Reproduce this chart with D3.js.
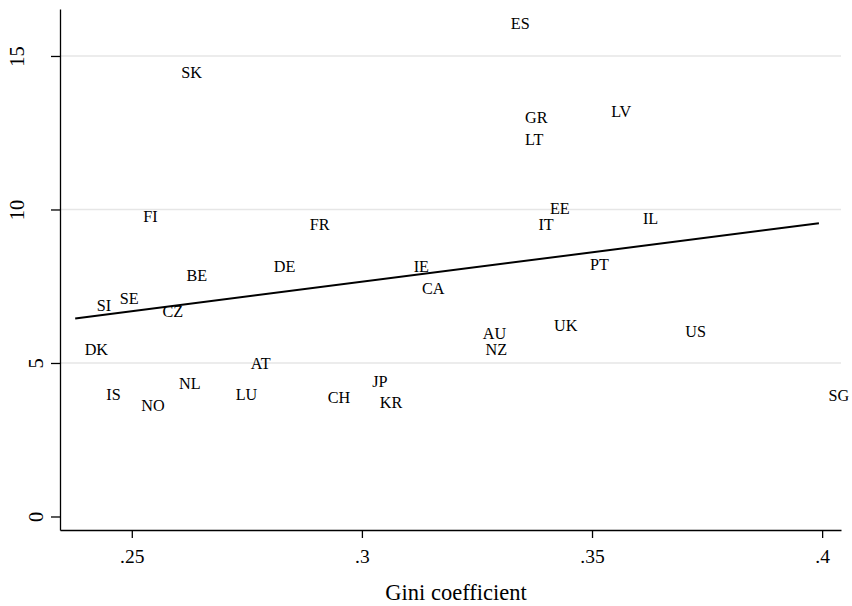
<!DOCTYPE html>
<meta charset="utf-8">
<style>
body { margin: 0; background: #fff; }
text { font-family: "Liberation Serif", "DejaVu Serif", serif; fill: #000; }
</style>
<svg width="852" height="606"></svg>
<script src="https://d3js.org/d3.v7.min.js"></script>
<script>
// country codes and their values (gini, y)
var countries = ["ES","SK","GR","LV","LT","FI","FR","EE","IT","IL","BE","DE","IE","PT","CA","SE","SI","CZ",
  "AU","UK","US","NZ","DK","AT","NL","JP","IS","LU","CH","KR","NO","SG"]
var gini = [0.3303,0.2587,0.3334,0.3521,0.3334,0.2504,0.2866,0.3388,0.3363,0.3590,0.2598,0.2788,0.3092,0.3475,0.3110,0.2453,0.2403,0.2546,
  0.3242,0.3397,0.3682,0.3248,0.2377,0.2738,0.2582,0.3002,0.2424,0.2705,0.2905,0.3018,0.2500,0.3993]
var values = [16.04,14.45,12.97,13.16,12.27,9.75,9.50,10.02,9.49,9.70,7.82,8.12,8.12,8.20,7.40,7.08,6.84,6.66,
  5.96,6.19,6.00,5.43,5.43,4.96,4.32,4.38,3.96,3.96,3.86,3.69,3.60,3.94]

// fitted line end points
var fitX = [0.2377, 0.3993]
var fitY = [6.45, 9.55]

var xTicks = [0.25, 0.3, 0.35, 0.4]
var xTickLabels = [".25", ".3", ".35", ".4"]
var yTicks = [0, 5, 10, 15]
var yGrid = [5, 10, 15]

var svg = d3.select('svg')

var x = d3.scaleLinear().domain([0.2344, 0.4041]).range([60, 841])
var y = d3.scaleLinear().domain([-0.44, 16.53]).range([530, 9])

// grid lines
svg.append('g').selectAll('line')
  .data(yGrid)
  .enter().append('line')
  .attr('x1', 60).attr('x2', 841)
  .attr('y1', function (d) { return y(d) })
  .attr('y2', function (d) { return y(d) })
  .attr('stroke', '#e6e6e6')
  .attr('stroke-width', 1.4)

// x axis
var xAxis = svg.append('g')
  .attr('transform', 'translate(0,530)')
  .call(d3.axisBottom(x).tickValues(xTicks).tickSize(8).tickSizeOuter(0)
    .tickFormat(function (d, i) { return xTickLabels[i] }))
xAxis.selectAll('path, line').attr('stroke', '#000').attr('stroke-width', 1.3)
xAxis.selectAll('text')
  .attr('y', 33).attr('dy', 0)
  .attr('font-size', 19.5)
  .attr('font-family', '"Liberation Serif", serif')
  .attr('fill', '#000')

// y axis
var yAxis = svg.append('g')
  .attr('transform', 'translate(60,0)')
  .call(d3.axisLeft(y).tickValues(yTicks).tickSize(9).tickSizeOuter(0))
yAxis.selectAll('path, line').attr('stroke', '#000').attr('stroke-width', 1.3)
yAxis.selectAll('text')
  .attr('x', 0).attr('y', 0).attr('dy', 0)
  .attr('text-anchor', 'middle')
  .attr('font-size', 20.5)
  .attr('font-family', '"Liberation Serif", serif')
  .attr('fill', '#000')
  .attr('transform', function (d) {
    var bx = String(d).length > 1 ? -36 : -17.5
    return 'translate(' + bx + ',0) rotate(-90)'
  })

// fit line
var fitData = fitX.map(function (d, i) { return [d, fitY[i]] })
svg.append('path')
  .datum(fitData)
  .attr('d', d3.line().x(function (d) { return x(d[0]) }).y(function (d) { return y(d[1]) }))
  .attr('fill', 'none')
  .attr('stroke', '#000')
  .attr('stroke-width', 2)

// country labels (marker label at 3 o'clock, no marker)
svg.append('g').selectAll('text')
  .data(countries)
  .enter().append('text')
  .attr('x', function (d, i) { return x(gini[i]) + 9.5 })
  .attr('y', function (d, i) { return y(values[i]) })
  .attr('dominant-baseline', 'central')
  .attr('font-size', 16.2)
  .text(function (d) { return d })

// axis title
svg.append('text')
  .attr('x', 456).attr('y', 600)
  .attr('text-anchor', 'middle')
  .attr('font-size', 22.5)
  .text('Gini coefficient')
</script>
